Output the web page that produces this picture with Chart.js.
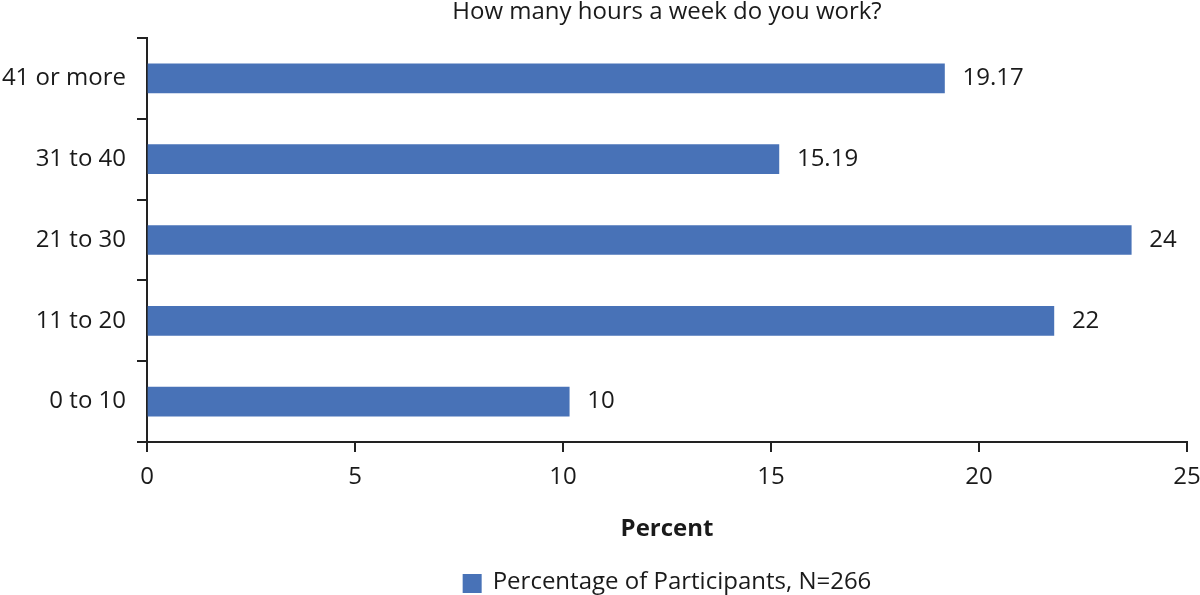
<!DOCTYPE html>
<html>
<head>
<meta charset="utf-8">
<script src="https://cdn.jsdelivr.net/npm/chart.js@4"></script>
<style>
  html, body { margin: 0; padding: 0; background: #fff; }
  #wrap { width: 1200px; height: 595px; }
</style>
</head>
<body>
<div id="wrap"><canvas id="hoursChart"></canvas></div>
<script>
// data
const hourRanges = ["0 to 10", "11 to 20", "21 to 30", "31 to 40", "41 or more"];
const percentValues = [10.15, 21.8, 23.66, 15.19, 19.17];
const valueLabels = ["10", "22", "24", "15.19", "19.17"];
const seriesName = "Percentage of Participants, N=266";
const chartTitle = "How many hours a week do you work?";
const xTicks = [0, 5, 10, 15, 20, 25];

const barColor = "#4872B7";
const inkColor = "#1a1a1a";
const fontFamily = "'Open Sans', Lato, sans-serif";

// title, value labels and legend drawn around the chart area
const extrasPlugin = {
  id: "extras",
  afterDatasetsDraw(chart) {
    const ctx = chart.ctx;
    const area = chart.chartArea;
    const midX = (area.left + area.right) / 2;
    ctx.save();
    ctx.fillStyle = inkColor;
    ctx.font = "24px " + fontFamily;

    // value at the end of each bar
    ctx.textAlign = "left";
    ctx.textBaseline = "middle";
    chart.getDatasetMeta(0).data.forEach(function (bar, i) {
      ctx.fillText(valueLabels[i], bar.x + 18, bar.y);
    });

    // title over the plot
    ctx.textAlign = "center";
    ctx.fillText(chartTitle, midX, 12);

    // legend under the axis title
    const textW = ctx.measureText(seriesName).width;
    const boxSize = 19, gap = 11;
    const startX = midX - (boxSize + gap + textW) / 2;
    ctx.fillStyle = barColor;
    ctx.fillRect(startX, 574, boxSize, boxSize);
    ctx.fillStyle = inkColor;
    ctx.textAlign = "left";
    ctx.fillText(seriesName, startX + boxSize + gap, 582);
    ctx.restore();
  }
};

new Chart(document.getElementById("hoursChart"), {
  type: "bar",
  data: {
    labels: hourRanges,
    datasets: [
      {
        label: seriesName,
        data: percentValues,
        backgroundColor: barColor,
        borderWidth: 0,
        barThickness: 29,
      },
    ],
  },
  options: {
    indexAxis: "y",
    responsive: true,
    maintainAspectRatio: false,
    animation: false,
    layout: {
      padding: { top: 38, right: 0, bottom: 0, left: 0 },
    },
    plugins: {
      legend: { display: false },
      title: { display: false },
      tooltip: { enabled: false },
    },
    scales: {
      x: {
        min: 0,
        max: 25,
        afterFit: function (scale) {
          scale.height = 153;
          scale.paddingLeft = 0;
          scale.paddingRight = 13;
        },
        afterBuildTicks: function (scale) {
          scale.ticks = xTicks.map(function (v) { return { value: v }; });
        },
        border: { display: true, color: "#222", width: 2 },
        grid: {
          drawOnChartArea: false,
          drawTicks: true,
          tickLength: 10,
          color: "#222",
          lineWidth: 2,
        },
        ticks: {
          color: inkColor,
          padding: 11,
          font: { size: 24, family: fontFamily },
        },
        title: {
          display: true,
          text: "Percent",
          color: inkColor,
          padding: { top: 0, bottom: 51 },
          font: { size: 24, weight: "bold", family: fontFamily },
        },
      },
      y: {
        reverse: true,
        afterFit: function (scale) { scale.width = 147; },
        border: { display: true, color: "#222", width: 2 },
        grid: {
          offset: true,
          drawOnChartArea: false,
          drawTicks: true,
          tickLength: 10,
          color: "#222",
          lineWidth: 2,
        },
        ticks: {
          color: inkColor,
          padding: 11,
          font: { size: 24, family: fontFamily },
        },
      },
    },
  },
  plugins: [extrasPlugin],
});
</script>
</body>
</html>
